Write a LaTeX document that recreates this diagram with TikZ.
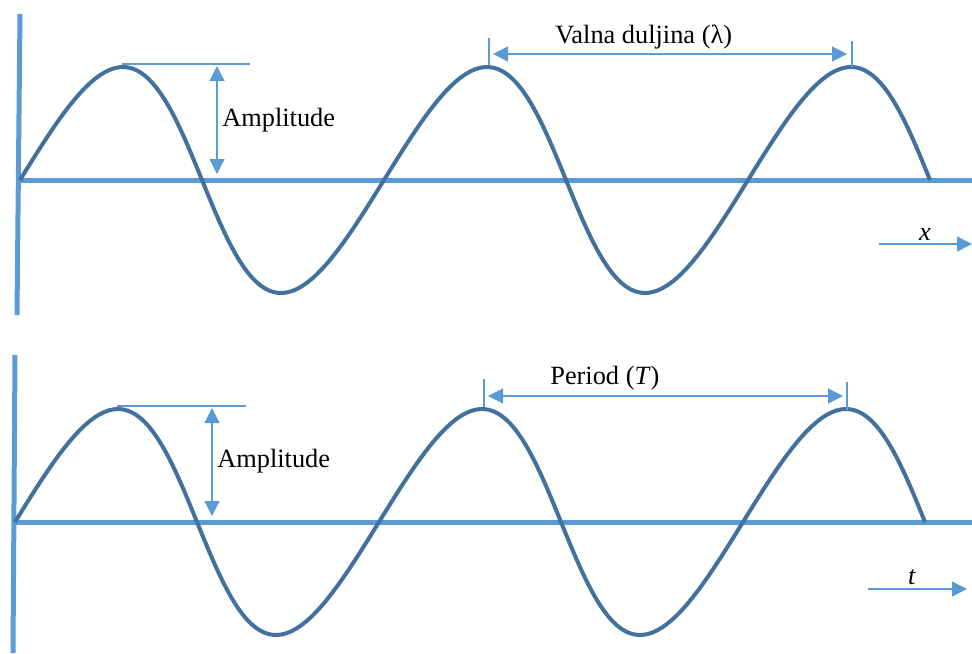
\documentclass[tikz,border=0pt]{standalone}
\usepackage{fontspec}
\setmainfont{Liberation Serif}
\usepackage{tikz}
\usetikzlibrary{arrows.meta}

\definecolor{axisblue}{HTML}{5B9BD5}
\definecolor{waveblue}{HTML}{41719C}

\begin{document}
\begin{tikzpicture}[x=0.02cm, y=-0.02cm,
    axis/.style={axisblue, line width=0.1cm},
    wave/.style={waveblue, line width=0.08cm, line join=round},
    guide/.style={axisblue, line width=0.7pt},
    dim/.style={guide, {Triangle[length=0.3cm, width=0.3cm]}-{Triangle[length=0.3cm, width=0.3cm]}},
    dir/.style={guide, -{Triangle[length=0.3cm, width=0.3cm]}},
    lbl/.style={anchor=base west, inner sep=0pt, font=\fontsize{15}{18}\selectfont}]
    \useasboundingbox (0,0) rectangle (972,653);

    % upper graph: wave in space
    \draw[axis] (20,14) -- (17,315);
    \draw[axis] (17,180) -- (972,180);
    \draw[wave] plot[domain=0:5*pi, samples=200, variable=\t]
        ({20 + 364/(2*pi)*\t + 12*sin(\t r)}, {180 - 113*sin(\t r)});

    \draw[guide] (122,64) -- (250,64);
    \draw[dim] (217,66) -- (217,174);
    \node[lbl] (amp1) at (222,126) {Amplitude};

    \draw[guide] (489,38) -- (489,65);
    \draw[guide] (852,41) -- (852,67);
    \draw[dim] (493,54) -- (847,54);
    \node[lbl] (lambda) at (555,43) {Valna duljina (λ)};

    \draw[dir] (879,244) -- (972,244);
    \node[lbl, anchor=base] (xlab) at (925,240) {\textit{x}};

    % lower graph: wave in time
    \draw[axis] (15,355) -- (13,653);
    \draw[axis] (13,522) -- (972,522);
    \draw[wave] plot[domain=0:5*pi, samples=200, variable=\t]
        ({15 + 364/(2*pi)*\t + 12*sin(\t r)}, {522 - 113*sin(\t r)});

    \draw[guide] (117,406) -- (246,406);
    \draw[dim] (212,408) -- (212,516);
    \node[lbl] (amp2) at (217,467) {Amplitude};

    \draw[guide] (484,379) -- (484,407);
    \draw[guide] (847,382) -- (847,410);
    \draw[dim] (488,396) -- (843,396);
    \node[lbl] (period) at (550,384) {Period (\textit{T})};

    \draw[dir] (868,589) -- (967,589);
    \node[lbl, anchor=base] (tlab) at (912,584) {\textit{t}};
\end{tikzpicture}
\end{document}
